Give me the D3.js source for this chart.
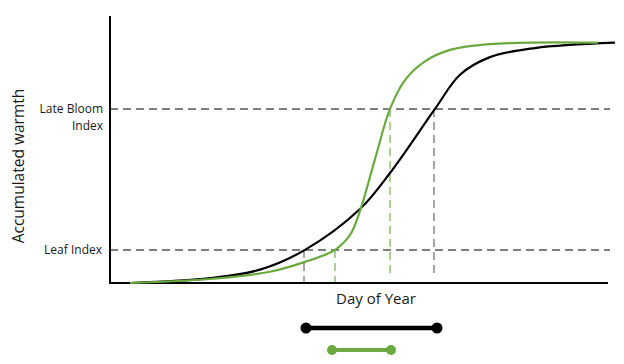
<!DOCTYPE html>
<html>
<head>
<meta charset="utf-8">
<script src="https://cdn.jsdelivr.net/npm/d3@7"></script>
<style>
body { margin: 0; background: #fff; }
text { font-family: "Open Sans", "Noto Sans", sans-serif; fill: #1a1a1a; }
</style>
</head>
<body>
<svg id="chart" width="624" height="364"></svg>
<script>
// day of year (0-100 relative), accumulated warmth (0-100 relative)
var blackDays   = [4, 20, 30, 39, 50, 56, 65, 70, 76, 85, 101];
var blackWarmth = [0, 1.8, 5, 12.4, 27.7, 41.2, 65.2, 78, 84.6, 88, 90];
var greenDays   = [4, 20, 32, 39, 45, 48, 50, 53, 56, 59, 63, 68, 76, 97.6];
var greenWarmth = [0, 1.5, 4.2, 7.9, 12.4, 18, 27, 46.4, 65.2, 76, 83, 87.3, 89.5, 90];

var leafIndex = 12.4;
var bloomIndex = 65.2;
// crossing days: [black leaf, green leaf, green bloom, black bloom]
var crossDays = [38.8, 45, 56, 64.8];
var blackRange = [39.2, 65.4];
var greenRange = [44.4, 56.2];

var svg = d3.select("#chart");

var x = d3.scaleLinear().domain([0, 100]).range([110, 610]);
var y = d3.scaleLinear().domain([0, 100]).range([283, 16]);

var green = "#6aaa3e";

// horizontal index lines
[leafIndex, bloomIndex].forEach(function(v){
    svg.append("line")
        .attr("x1", x(0)).attr("x2", x(100))
        .attr("y1", y(v)).attr("y2", y(v))
        .attr("stroke", "#7f7f7f")
        .attr("stroke-width", 2)
        .attr("stroke-dasharray", "8,5");
});

// vertical crossing lines
var vCols = ["#a6a6a6", "#a9d18e", "#a9d18e", "#a6a6a6"];
var vTop = [leafIndex, leafIndex, bloomIndex, bloomIndex];
var vBottom = [0.3, 0.3, 2.2, 2.2];
crossDays.forEach(function(d, i){
    svg.append("line")
        .attr("x1", x(d)).attr("x2", x(d))
        .attr("y1", y(vTop[i])).attr("y2", y(vBottom[i]))
        .attr("stroke", vCols[i])
        .attr("stroke-width", 2)
        .attr("stroke-dasharray", "8,5");
});

// axes
svg.append("line")
    .attr("x1", x(0)).attr("x2", x(0))
    .attr("y1", y(100)).attr("y2", y(0))
    .attr("stroke", "#000").attr("stroke-width", 2);
svg.append("line")
    .attr("x1", x(0) - 1).attr("x2", x(99.6))
    .attr("y1", y(0)).attr("y2", y(0))
    .attr("stroke", "#000").attr("stroke-width", 2);

var line = d3.line()
    .x(function(d){ return x(d[0]); })
    .y(function(d){ return y(d[1]); })
    .curve(d3.curveCatmullRom.alpha(0.5));

svg.append("path")
    .datum(d3.zip(blackDays, blackWarmth))
    .attr("d", line)
    .attr("fill", "none")
    .attr("stroke", "#000")
    .attr("stroke-width", 2.2);

svg.append("path")
    .datum(d3.zip(greenDays, greenWarmth))
    .attr("d", line)
    .attr("fill", "none")
    .attr("stroke", green)
    .attr("stroke-width", 2.2);

// labels
svg.append("text")
    .attr("x", 103).attr("y", y(bloomIndex) + 4)
    .attr("text-anchor", "end")
    .attr("font-size", 12)
    .text("Late Bloom");
svg.append("text")
    .attr("x", 103).attr("y", y(bloomIndex) + 21)
    .attr("text-anchor", "end")
    .attr("font-size", 12)
    .text("Index");
svg.append("text")
    .attr("x", 102).attr("y", y(leafIndex) + 4)
    .attr("text-anchor", "end")
    .attr("font-size", 12)
    .text("Leaf Index");

svg.append("text")
    .attr("transform", "translate(24," + 166 + ") rotate(-90)")
    .attr("text-anchor", "middle")
    .attr("font-size", 15.5)
    .text("Accumulated warmth");

svg.append("text")
    .attr("x", 376).attr("y", 304)
    .attr("text-anchor", "middle")
    .attr("font-size", 15)
    .text("Day of Year");

// range bars
function rangeBar(r, yy, col, w, rad){
    svg.append("line")
        .attr("x1", x(r[0])).attr("x2", x(r[1]))
        .attr("y1", yy).attr("y2", yy)
        .attr("stroke", col).attr("stroke-width", w);
    svg.selectAll(null)
        .data(r)
        .enter()
        .append("circle")
        .attr("cx", function(d){ return x(d); })
        .attr("cy", yy)
        .attr("r", rad)
        .attr("fill", col);
}
rangeBar(blackRange, 328, "#000", 4.5, 5.5);
rangeBar(greenRange, 350, green, 4, 5);
</script>
</body>
</html>
